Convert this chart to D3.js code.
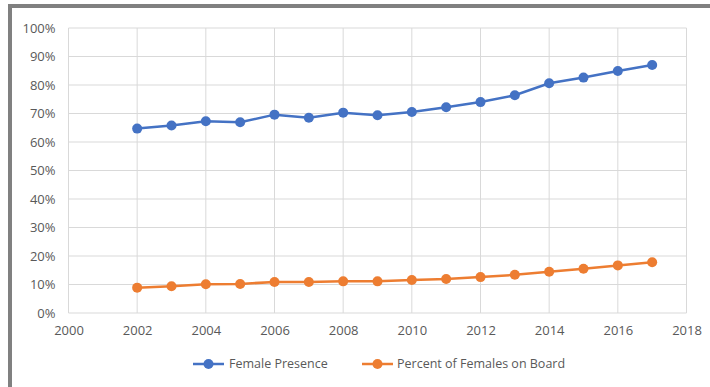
<!DOCTYPE html>
<html>
<head>
<meta charset="utf-8">
<script src="https://cdn.jsdelivr.net/npm/d3@7"></script>
<style>
html,body{margin:0;padding:0;background:#fff;}
svg{display:block;}
text{font-family:"Open Sans","Noto Sans",sans-serif;fill:#595959;}
</style>
</head>
<body>
<svg id="chart" width="710" height="387"></svg>
<script>
const years = [2002,2003,2004,2005,2006,2007,2008,2009,2010,2011,2012,2013,2014,2015,2016,2017];
const femalePresence = [64.7,65.8,67.3,66.9,69.6,68.5,70.3,69.4,70.5,72.2,74.0,76.4,80.6,82.6,84.9,87.0];
const femalesOnBoard = [8.9,9.4,10.1,10.2,10.9,10.9,11.1,11.1,11.6,11.9,12.6,13.4,14.5,15.5,16.7,17.8];
const xTicks = [2000,2002,2004,2006,2008,2010,2012,2014,2016,2018];
const yTicks = [0,10,20,30,40,50,60,70,80,90,100];
const seriesNames = ["Female Presence","Percent of Females on Board"];
const seriesColors = ["#4472C4","#ED7D31"];

const svg = d3.select("#chart");
// outer frame
svg.append("rect").attr("x",10).attr("y",6).attr("width",720).attr("height",400)
  .attr("fill","#fff").attr("stroke","#808080").attr("stroke-width",4);

const x = d3.scaleLinear().domain([2000,2018]).range([68.5,686.5]);
const y = d3.scaleLinear().domain([0,100]).range([313,28]);

const g = svg.append("g");
// grid
g.selectAll(".hg").data(yTicks).join("line")
  .attr("x1",x(2000)).attr("x2",x(2018)).attr("y1",d=>y(d)).attr("y2",d=>y(d))
  .attr("stroke","#d9d9d9").attr("stroke-width",1);
g.selectAll(".vg").data(xTicks).join("line")
  .attr("x1",d=>x(d)).attr("x2",d=>x(d)).attr("y1",y(0)).attr("y2",y(100))
  .attr("stroke","#d9d9d9").attr("stroke-width",1);

// axes via d3
const yAxis = d3.axisLeft(y).tickValues(yTicks).tickFormat(d=>d+"%").tickSize(0).tickPadding(13);
const ya = svg.append("g").attr("transform",`translate(${x(2000)},0)`).call(yAxis);
ya.select(".domain").remove();
ya.selectAll("text").attr("font-size",13).style("font-family","'Open Sans',sans-serif").attr("fill","#636363");

const xAxis = d3.axisBottom(x).tickValues(xTicks).tickFormat(d3.format("d")).tickSize(0).tickPadding(13);
const xa = svg.append("g").attr("transform",`translate(0,${y(0)})`).call(xAxis);
xa.select(".domain").remove();
xa.selectAll("text").attr("font-size",13).style("font-family","'Open Sans',sans-serif").attr("fill","#636363");

const line = d3.line().x((d,i)=>x(years[i])).y(d=>y(d));
[femalePresence,femalesOnBoard].forEach((vals,k)=>{
  svg.append("path").datum(vals).attr("d",line).attr("fill","none")
    .attr("stroke",seriesColors[k]).attr("stroke-width",2.5);
  svg.selectAll(null).data(vals).join("circle")
    .attr("cx",(d,i)=>x(years[i])).attr("cy",d=>y(d)).attr("r",5)
    .attr("fill",seriesColors[k]);
});

// legend
const legendItems = [{x0:193,tx:229},{x0:362,tx:397}];
legendItems.forEach((l,k)=>{
  const lg = svg.append("g");
  lg.append("line").attr("x1",l.x0).attr("x2",l.x0+31).attr("y1",364).attr("y2",364)
    .attr("stroke",seriesColors[k]).attr("stroke-width",2.5);
  lg.append("circle").attr("cx",l.x0+15.5).attr("cy",364).attr("r",5).attr("fill",seriesColors[k]);
  lg.append("text").attr("x",l.tx).attr("y",364).attr("dy","0.35em")
    .attr("font-size",12.5).attr("fill","#636363").text(seriesNames[k]);
});
</script>
</body>
</html>
